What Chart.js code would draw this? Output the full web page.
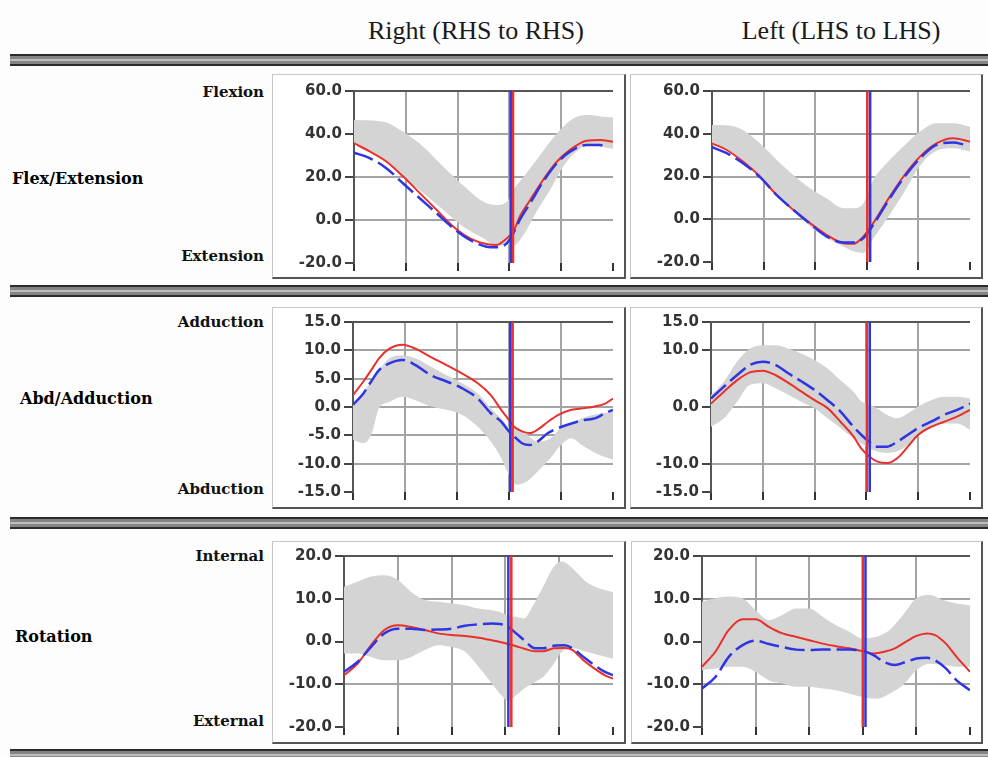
<!DOCTYPE html>
<html>
<head>
<meta charset="utf-8">
<script src="https://cdn.jsdelivr.net/npm/chart.js@4.4.1/dist/chart.umd.min.js"></script>
<style>
  body{margin:0;background:#fdfdfd;width:988px;height:757px;overflow:hidden;position:relative;font-family:"DejaVu Serif",serif}
  .title{position:absolute;font-family:"Liberation Serif",serif;font-size:26px;line-height:26px;color:#1a1a1a;white-space:nowrap;transform:translateX(-50%)}
  .bar{position:absolute;left:10px;width:990px;height:12px;background:linear-gradient(#2b2b2b 0 2px,#858585 2px 5px,#bdbdbd 5px 7px,#858585 7px 10px,#2b2b2b 10px 12px)}
  .row{position:absolute;font-weight:bold;font-size:16px;line-height:16px;color:#000;white-space:nowrap}
  .side{position:absolute;font-weight:bold;font-size:15px;line-height:15px;color:#111;white-space:nowrap;text-align:right;width:140px}
  .frame{position:absolute;box-sizing:border-box;background:#fff;border-left:1px solid #c6c6c6;border-top:1px solid #c6c6c6;border-right:2px solid #555;border-bottom:2px solid #555}
  canvas{position:absolute}
</style>
</head>
<body>

<div class="title" style="left:476px;top:18px">Right (RHS to RHS)</div>
<div class="title" style="left:841px;top:18px">Left (LHS to LHS)</div>

<div class="bar" style="top:54px"></div>
<div class="bar" style="top:285px"></div>
<div class="bar" style="top:517px"></div>
<div class="bar" style="top:749px"></div>

<div class="row" style="left:12px;top:171px">Flex/Extension</div>
<div class="row" style="left:20px;top:391px">Abd/Adduction</div>
<div class="row" style="left:15px;top:629px">Rotation</div>

<div class="side" style="left:124px;top:85px">Flexion</div>
<div class="side" style="left:124px;top:249px">Extension</div>
<div class="side" style="left:124px;top:315px">Adduction</div>
<div class="side" style="left:124px;top:482px">Abduction</div>
<div class="side" style="left:124px;top:549px">Internal</div>
<div class="side" style="left:124px;top:714px">External</div>

<div class="frame" style="left:272px;top:74px;width:354px;height:205px"></div>
<div class="frame" style="left:630px;top:74px;width:353px;height:205px"></div>
<div class="frame" style="left:272px;top:307px;width:354px;height:202px"></div>
<div class="frame" style="left:630px;top:307px;width:353px;height:202px"></div>
<div class="frame" style="left:272px;top:541px;width:354px;height:203px"></div>
<div class="frame" style="left:631px;top:541px;width:352px;height:203px"></div>

<canvas id="flexR" width="354" height="205" style="left:272px;top:74px"></canvas>
<canvas id="flexL" width="353" height="205" style="left:630px;top:74px"></canvas>
<canvas id="abdR" width="354" height="202" style="left:272px;top:307px"></canvas>
<canvas id="abdL" width="353" height="202" style="left:630px;top:307px"></canvas>
<canvas id="rotR" width="354" height="203" style="left:272px;top:541px"></canvas>
<canvas id="rotL" width="352" height="203" style="left:631px;top:541px"></canvas>

<script>
// % of gait cycle on every x axis
const cycleTicks = [0, 20, 40, 60, 80, 100];
const flexTicks = [-20, 0, 20, 40, 60];
const abdRTicks = [-15, -10, -5, 0, 5, 10, 15];
const abdLTicks = [-15, -10, 0, 10, 15];
const rotTicks = [-20, -10, 0, 10, 20];

// ---- Flex/Extension, right side ----
const flexR_bandX  = [0, 11.3, 19, 26.8, 34.5, 42, 50, 55, 59, 61.5, 65.4, 70.5, 75.7, 80.8, 86, 91, 96, 100];
const flexR_bandHi = [46.5, 45.7, 41, 34, 24.8, 16.3, 8.5, 7, 8.5, 14, 20, 28, 36.4, 43.4, 48, 48.8, 48, 47.7];
const flexR_bandLo = [36, 28, 20, 12.4, 4.6, -3, -8.5, -12, -11.5, -12, -7, 4, 14, 25, 32, 35, 34, 33];
const flexR_lineX  = [0, 6.2, 12.6, 19, 25.5, 31.9, 38.4, 44.8, 51.2, 55, 59, 61.5, 64, 68, 73, 78.3, 83.4, 89.8, 95, 100];
const flexR_red    = [35.7, 31.8, 27.1, 20.2, 12.4, 4.7, -3.1, -8.5, -11.2, -11.6, -8.5, -5.4, 1.5, 9.3, 18.6, 27.1, 32.6, 36.9, 37.2, 36.4];
const flexR_blueX  = [0, 6.2, 12.6, 19, 25.5, 31.9, 38.4, 44.8, 51.2, 55, 59, 61.5, 64, 68, 73, 78.3, 83.4, 89.8, 95, 97];
const flexR_blue   = [31.3, 28.7, 24, 17, 10, 3.1, -3.9, -9.3, -12.4, -12.7, -10.9, -6.2, 0, 7.8, 17.8, 26.4, 31.8, 34.9, 34.9, 33.8];
const flexR_toeOff = [61.4, 60.5]; // [red, blue]

// ---- Flex/Extension, left side ----
const flexL_bandX  = [0, 5.7, 12, 18.6, 25, 31.5, 38, 44.4, 50.9, 54.8, 58.7, 62.5, 67.7, 74.2, 80.6, 87, 93.5, 100];
const flexL_bandHi = [44.1, 44, 41.8, 35.5, 27.8, 20.7, 14.5, 9.8, 5.2, 5.2, 7.5, 18.4, 26.2, 34, 41, 44.9, 44.9, 43.3];
const flexL_bandLo = [34.8, 32.4, 26.2, 20, 12.2, 4.4, -3.4, -8.8, -12.7, -15, -15.8, -9, 0, 12, 25, 32, 33.2, 31.7];
const flexL_lineX  = [0, 5.7, 12, 18.6, 25, 31.5, 38, 44.4, 50.9, 54.8, 58.7, 62.5, 67.7, 74.2, 80.6, 87, 93.5, 100];
const flexL_red    = [35.5, 32.4, 27, 20, 11.4, 4.4, -1.8, -7.3, -11.2, -11.5, -8, -1.8, 8.3, 20, 29.3, 35.5, 37.9, 36.3];
const flexL_blueX  = [0, 5.7, 12, 18.6, 25, 31.5, 38, 44.4, 50.9, 54.8, 58.7, 62.5, 67.7, 74.2, 80.6, 87, 93.5, 98];
const flexL_blue   = [33.7, 30.9, 26.2, 19.7, 11.4, 4.4, -2.1, -8, -10.9, -10.9, -8.8, -2.6, 7.5, 19.2, 28.5, 34.8, 35.9, 34.8];
const flexL_toeOff = [60.2, 61.3];

// ---- Abd/Adduction, right side ----
const abdR_bandX  = [0, 4, 7, 10, 14, 19, 24, 30, 36, 42, 48, 53, 57, 60, 63, 67, 71, 76, 80, 84, 88, 92, 96, 100];
const abdR_bandHi = [0.4, 2.7, 4.5, 6.5, 8.6, 9.1, 8.6, 7.1, 5.6, 4.2, 2.4, -0.2, -2, -3.5, -3.7, -4.9, -6.1, -5.5, -3.7, -2.9, -2, -1.4, -1.1, -0.8];
const abdR_bandLo = [-5.8, -6.4, -4.9, -0.2, 0.9, 1.8, 1.2, 0.1, -0.5, -1.4, -3.5, -6.1, -9, -12, -13.7, -13.1, -11.4, -9, -6.7, -5.5, -6.7, -7.8, -8.7, -9.3];
const abdR_lineX  = [0, 4, 7, 10, 14, 19, 24, 30, 36, 42, 48, 53, 57, 60, 62, 65, 68, 71, 75, 79, 84, 89, 93, 97, 100];
const abdR_red    = [2.1, 4.5, 6.5, 8.6, 10.3, 11, 10.3, 8.8, 7.4, 5.9, 4.2, 2.1, -0.5, -2.3, -3.5, -4.3, -4.6, -4, -2.6, -1.4, -0.5, -0.2, 0.1, 0.6, 1.5];
const abdR_blue   = [0.4, 2.4, 4.5, 6.5, 7.7, 8.3, 7.4, 5.6, 4.5, 3.3, 1.5, -1.1, -2.6, -4.3, -5.2, -6.4, -6.7, -6.1, -4.6, -3.7, -2.9, -2.3, -2, -1.1, -0.5];
const abdR_toeOff = [61.4, 60.5];

// ---- Abd/Adduction, left side ----
const abdL_bandX  = [0, 5, 10, 15, 20, 25, 30, 35, 40, 45, 50, 55, 58, 61, 64, 68, 72, 76, 80, 85, 90, 95, 100];
const abdL_bandHi = [2.1, 4.5, 8, 10.3, 10.9, 10.9, 10.3, 9.4, 8.3, 6.8, 4.7, 2.7, 1, 0.4, -0.2, -1.4, -2, -1.1, 0.1, 1.2, 1.8, 1.8, 1.5];
const abdL_bandLo = [-3.5, -2, 0.9, 3.9, 4.2, 3.3, 2.1, 0.9, -0.2, -2, -3.7, -5.5, -6.4, -7.3, -7.8, -8.1, -7.8, -6.7, -4.9, -3.5, -2.9, -2.9, -4];
const abdL_lineX  = [0, 5, 10, 15, 20, 25, 30, 35, 40, 45, 50, 55, 58, 61, 64, 68, 72, 76, 80, 85, 90, 95, 100];
const abdL_red    = [0.6, 2.7, 4.7, 6.1, 6.4, 5.6, 4.2, 2.7, 1.2, -0.2, -2.6, -5.2, -7.3, -8.7, -9.6, -9.9, -9, -7, -4.9, -3.5, -2.6, -1.7, -0.5];
const abdL_blue   = [1.5, 3.6, 5.6, 7.4, 8, 7.4, 5.9, 4.5, 3, 1.2, -0.8, -3.5, -4.9, -6.1, -7, -7, -6.1, -4.9, -3.7, -2.6, -1.4, -0.5, 0.6];
const abdL_toeOff = [60.2, 61.3];

// ---- Rotation, right side ----
const rotR_bandX  = [0, 5, 10, 15, 20, 25, 30, 35, 40, 45, 50, 55, 58, 61, 64, 67, 70, 74, 78, 81, 85, 90, 95, 100];
const rotR_bandHi = [12.8, 14, 15.2, 15.5, 14.4, 11.6, 9.7, 9.3, 8.9, 8.5, 7.7, 7.3, 6.9, 6.1, 5.8, 5.4, 8.1, 12.8, 17.5, 18.7, 17.1, 14, 12.4, 11.6];
const rotR_bandLo = [-2.8, -2.8, -3.6, -4.4, -4.4, -3.6, -2, -0.9, -1.3, -2.4, -5.9, -9.8, -12.2, -13.8, -12.6, -11, -9.8, -8.3, -5.2, -2.4, -1.6, -2.4, -3.2, -4];
const rotR_lineX  = [0, 5, 10, 15, 20, 25, 30, 35, 40, 45, 50, 55, 58, 61, 64, 67, 71, 74, 78, 82, 85, 89, 93, 97, 100];
const rotR_red    = [-7.9, -5.2, -0.9, 2.7, 3.8, 3.4, 2.7, 1.9, 1.5, 1.3, 0.9, 0.3, -0.1, -0.6, -1.1, -1.7, -2.3, -2.3, -1.6, -1.5, -2, -4.4, -6.3, -7.9, -8.7];
const rotR_blue   = [-7.1, -4.8, -1.3, 1.9, 3, 3, 2.7, 2.8, 3, 3.7, 4, 4.2, 4.1, 3.4, 1.9, 0.3, -1.6, -1.6, -1, -0.9, -1.6, -3.6, -5.5, -7.1, -7.9];
const rotR_toeOff = [62.2, 61.1];

// ---- Rotation, left side ----
const rotL_bandX  = [0, 5, 10, 15, 20, 25, 30, 35, 40, 45, 50, 55, 60, 65, 70, 75, 80, 85, 90, 95, 100];
const rotL_bandHi = [9.3, 10.1, 10.5, 10.1, 7.3, 5, 6.2, 7.7, 7.7, 5.8, 3.8, 2.3, 0.7, 1.1, 2.7, 6.2, 10.1, 10.9, 9.7, 8.9, 8.5];
const rotL_bandLo = [-6.7, -6.3, -5.9, -5.9, -7.1, -9.1, -9.8, -10.6, -10.6, -11, -11.4, -12.2, -13, -13.4, -12.2, -10.2, -6.7, -5.2, -5.5, -5.9, -5.9];
const rotL_lineX  = [0, 5, 10, 15, 20, 25, 30, 35, 40, 45, 50, 55, 60, 64, 68, 72, 76, 80, 84, 87, 91, 95, 100];
const rotL_red    = [-5.9, -2.4, 2.7, 5.2, 5.2, 3.4, 1.9, 1.1, 0.3, -0.5, -1.1, -1.6, -2.3, -2.8, -2.4, -1.6, -0.1, 1.3, 1.9, 1.5, -0.5, -3.6, -7.1];
const rotL_blue   = [-11, -8.3, -3.6, -0.9, 0.2, -0.6, -1.3, -1.9, -2, -1.9, -1.9, -1.9, -2.2, -3.2, -4.8, -5.5, -4.8, -4, -3.8, -4.4, -6.3, -9.1, -11.4];
const rotL_toeOff = [60, 61];

const RED = '#e8302c';
const BLUE = '#2f35e0';
const BAND = '#d4d4d4';
const GRID = '#a4a4a4';

Chart.defaults.font.family = '"DejaVu Sans", sans-serif';

const pts = (xs, ys) => xs.map((x, i) => ({ x: x, y: ys[i] }));

function drawPanel(id, d) {
  const yMin = d.yTicks[0], yMax = d.yTicks[d.yTicks.length - 1];
  new Chart(document.getElementById(id), {
    type: 'line',
    data: {
      datasets: [
        { data: pts(d.bandX, d.bandHi), borderColor: 'rgba(0,0,0,0)', borderWidth: 0, backgroundColor: BAND,
          fill: '+1', pointRadius: 0, cubicInterpolationMode: 'monotone', order: 5 },
        { data: pts(d.bandX, d.bandLo), borderColor: 'rgba(0,0,0,0)', borderWidth: 0,
          fill: false, pointRadius: 0, cubicInterpolationMode: 'monotone', order: 6 },
        { data: pts(d.lineX, d.red), borderColor: RED, borderWidth: 2, fill: false,
          pointRadius: 0, cubicInterpolationMode: 'monotone', order: 3 },
        { data: pts(d.blueX || d.lineX, d.blue), borderColor: BLUE, borderWidth: 2.5, borderDash: [20, 6], fill: false,
          pointRadius: 0, cubicInterpolationMode: 'monotone', order: 2 },
        { data: [{ x: d.toeOff[0], y: yMin }, { x: d.toeOff[0], y: yMax }], borderColor: RED, borderWidth: 2.5,
          fill: false, pointRadius: 0, tension: 0, order: 1 },
        { data: [{ x: d.toeOff[1], y: yMin }, { x: d.toeOff[1], y: yMax }], borderColor: BLUE, borderWidth: 2.5,
          fill: false, pointRadius: 0, tension: 0, order: 0 }
      ]
    },
    options: {
      responsive: false,
      animation: false,
      events: [],
      layout: { padding: { left: 0, top: d.padTop, right: d.padRight, bottom: 0 } },
      plugins: { legend: { display: false }, tooltip: { enabled: false } },
      scales: {
        x: {
          type: 'linear', min: 0, max: 100,
          afterBuildTicks: s => { s.ticks = cycleTicks.map(v => ({ value: v })); },
          afterFit: s => { s.height = d.xH; },
          ticks: { display: false },
          border: { display: false },
          grid: {
            color: c => (c.tick && (c.tick.value === 0 || c.tick.value === 100)) ? 'rgba(0,0,0,0)' : GRID,
            lineWidth: 2, tickColor: '#333', tickWidth: 2, tickLength: 8
          }
        },
        y: {
          type: 'linear', min: yMin, max: yMax,
          afterBuildTicks: s => { s.ticks = d.yTicks.map(v => ({ value: v })); },
          afterFit: s => { s.width = d.yW; },
          ticks: { callback: v => Number(v).toFixed(1), color: '#333', padding: 3,
                   font: { size: 15, weight: 'bold' } },
          border: { display: true, color: '#555', width: 2 },
          grid: {
            color: c => !c.tick ? GRID : (c.tick.value === yMax ? '#555' : (c.tick.value === yMin ? 'rgba(0,0,0,0)' : GRID)),
            lineWidth: 2, tickColor: '#444', tickWidth: 2, tickLength: 9
          }
        }
      }
    }
  });
}

drawPanel('flexR', { bandX: flexR_bandX, bandHi: flexR_bandHi, bandLo: flexR_bandLo, lineX: flexR_lineX, red: flexR_red,
  blueX: flexR_blueX, blue: flexR_blue, toeOff: flexR_toeOff, yTicks: flexTicks, yW: 82, xH: 16, padTop: 17, padRight: 13 });
drawPanel('flexL', { bandX: flexL_bandX, bandHi: flexL_bandHi, bandLo: flexL_bandLo, lineX: flexL_lineX, red: flexL_red,
  blueX: flexL_blueX, blue: flexL_blue, toeOff: flexL_toeOff, yTicks: flexTicks, yW: 82, xH: 17, padTop: 17, padRight: 13 });
drawPanel('abdR', { bandX: abdR_bandX, bandHi: abdR_bandHi, bandLo: abdR_bandLo, lineX: abdR_lineX, red: abdR_red,
  blue: abdR_blue, toeOff: abdR_toeOff, yTicks: abdRTicks, yW: 81, xH: 17, padTop: 15, padRight: 13 });
drawPanel('abdL', { bandX: abdL_bandX, bandHi: abdL_bandHi, bandLo: abdL_bandLo, lineX: abdL_lineX, red: abdL_red,
  blue: abdL_blue, toeOff: abdL_toeOff, yTicks: abdLTicks, yW: 81, xH: 17, padTop: 15, padRight: 13 });
drawPanel('rotR', { bandX: rotR_bandX, bandHi: rotR_bandHi, bandLo: rotR_bandLo, lineX: rotR_lineX, red: rotR_red,
  blue: rotR_blue, toeOff: rotR_toeOff, yTicks: rotTicks, yW: 72, xH: 17, padTop: 15, padRight: 13 });
drawPanel('rotL', { bandX: rotL_bandX, bandHi: rotL_bandHi, bandLo: rotL_bandLo, lineX: rotL_lineX, red: rotL_red,
  blue: rotL_blue, toeOff: rotL_toeOff, yTicks: rotTicks, yW: 71, xH: 17, padTop: 15, padRight: 13 });
</script>
</body>
</html>
